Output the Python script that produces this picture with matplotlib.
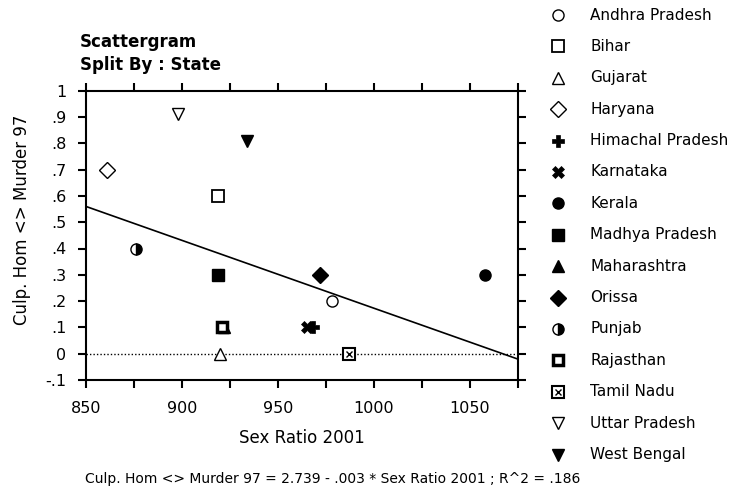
import numpy as np
import matplotlib
matplotlib.use('Agg')
import matplotlib.pyplot as plt

# data
states = ['Andhra Pradesh', 'Bihar', 'Gujarat', 'Haryana', 'Himachal Pradesh',
          'Karnataka', 'Kerala', 'Madhya Pradesh', 'Maharashtra', 'Orissa',
          'Punjab', 'Rajasthan', 'Tamil Nadu', 'Uttar Pradesh', 'West Bengal']
sex_ratio = [978, 919, 920, 861, 968, 965, 1058, 919, 922, 972, 876, 921, 987, 898, 934]
murder = [0.2, 0.6, 0.0, 0.7, 0.1, 0.1, 0.3, 0.3, 0.1, 0.3, 0.4, 0.1, 0.0, 0.91, 0.81]

x_ticks = [850, 900, 950, 1000, 1050]
y_ticks = [1, .9, .8, .7, .6, .5, .4, .3, .2, .1, 0, -.1]
y_tick_labels = ['1', '.9', '.8', '.7', '.6', '.5', '.4', '.3', '.2', '.1', '0', '-.1']
equation = 'Culp. Hom <> Murder 97 = 2.739 - .003 * Sex Ratio 2001 ; R^2 = .186'

# marker styles per state
K, W = 'black', 'white'
styles = {
    'Andhra Pradesh':   dict(marker='o', ms=8, mfc=W, mew=1.0),
    'Bihar':            dict(marker='s', ms=8, mfc=W, mew=1.3),
    'Gujarat':          dict(marker='^', ms=8, mfc=W, mew=1.0),
    'Haryana':          dict(marker='D', ms=8, mfc=W, mew=1.0),
    'Himachal Pradesh': dict(marker='P', ms=8, mfc=K, mew=0.5),
    'Karnataka':        dict(marker='X', ms=8, mfc=K, mew=0.5),
    'Kerala':           dict(marker='o', ms=8, mfc=K, mew=1.0),
    'Madhya Pradesh':   dict(marker='s', ms=8, mfc=K, mew=1.0),
    'Maharashtra':      dict(marker='^', ms=8, mfc=K, mew=1.0),
    'Orissa':           dict(marker='D', ms=8, mfc=K, mew=1.0),
    'Punjab':           dict(marker='o', ms=8, mfc=K, mew=1.0, fillstyle='right', markerfacecoloralt=W),
    'Rajasthan':        dict(marker='s', ms=7, mfc=W, mew=2.5),
    'Tamil Nadu':       dict(marker='s', ms=8, mfc=W, mew=1.5),
    'Uttar Pradesh':    dict(marker='v', ms=8, mfc=W, mew=1.0),
    'West Bengal':      dict(marker='v', ms=8, mfc=K, mew=1.0),
}


def draw(ax, x, y, state, **kw):
    st = styles[state]
    ax.plot([x], [y], linestyle='none', mec=K, zorder=4, **st, **kw)
    if state == 'Tamil Nadu':
        ax.plot([x], [y], linestyle='none', marker='x', ms=4, mec=K, mew=1.0, zorder=5, **kw)


fig = plt.figure(figsize=(7.46, 4.99), dpi=100)
ax = fig.add_axes([86 / 746, 1 - 380 / 499, 432 / 746, 289.3 / 499])

ax.set_xlim(850, 1075)
ax.set_ylim(-0.1, 1.0)

# zero reference line
ax.axhline(0, color=K, linestyle=(0, (1, 1.5)), linewidth=1.0, zorder=2)

# regression line
slope, intercept = np.polyfit(sex_ratio, murder, 1)
xl = np.array(ax.get_xlim())
ax.plot(xl, intercept + slope * xl, color=K, linewidth=1.2, zorder=3)

for s, xv, yv in zip(states, sex_ratio, murder):
    draw(ax, xv, yv, s)

xt = np.arange(850, 1076, 25)
ax.set_xticks(xt)
ax.set_xticklabels([str(t) if t in x_ticks else '' for t in xt])
ax.set_yticks(y_ticks)
ax.set_yticklabels(y_tick_labels)
ax.tick_params(direction='out', length=6, width=1.5, labelsize=11.5,
               top=True, right=True, bottom=True, left=True)
ax.tick_params(axis='x', pad=9)
ax.tick_params(axis='y', pad=8)
for sp in ax.spines.values():
    sp.set_linewidth(1.5)

ax.set_xlabel('Sex Ratio 2001', fontsize=12)
ax.xaxis.set_label_coords(0.5, (380 - 438) / 289.3)
ax.xaxis.label.set_verticalalignment('center')
ax.set_ylabel('Culp. Hom <> Murder 97', fontsize=12)
ax.yaxis.set_label_coords((22 - 86) / 432, (380 - 220) / 289.3)
ax.yaxis.label.set_verticalalignment('center')

fig.text(80 / 746, 1 - 42 / 499, 'Scattergram', fontsize=12,
         fontweight='bold', ha='left', va='center')
fig.text(80 / 746, 1 - 65 / 499, 'Split By : State', fontsize=12,
         fontweight='bold', ha='left', va='center')

# legend drawn in pixel coordinates on an overlay
lg = fig.add_axes([0, 0, 1, 1], facecolor='none')
lg.set_xlim(0, 746)
lg.set_ylim(499, 0)
lg.axis('off')
for i, s in enumerate(states):
    yy = 15 + i * 31.4
    draw(lg, 558, yy, s, clip_on=False)
    lg.text(590, yy, s, fontsize=11, ha='left', va='center')

fig.text(85 / 746, 1 - 479 / 499, equation, fontsize=10, ha='left', va='center')

fig.savefig('out.png', dpi=100)
